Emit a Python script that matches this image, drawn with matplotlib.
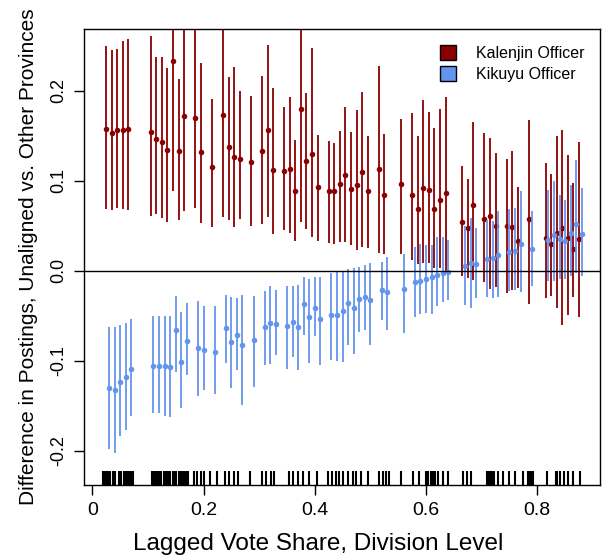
import numpy as np
import matplotlib
matplotlib.use("Agg")
import matplotlib.pyplot as plt
from matplotlib.patches import Patch

# division-level vote share bins (shared grid; Kalenjin drawn slightly left)
share = [0.03, 0.04, 0.05, 0.06, 0.07, 0.11, 0.12, 0.13, 0.14, 0.15, 0.16, 0.17, 0.19, 0.20, 0.22,
         0.24, 0.25, 0.26, 0.27, 0.29, 0.31,
         0.32, 0.33, 0.35, 0.36, 0.37, 0.38, 0.39, 0.40, 0.41, 0.43, 0.44, 0.45, 0.46, 0.47, 0.48,
         0.49, 0.50, 0.52, 0.53, 0.56, 0.58, 0.59, 0.60, 0.61, 0.62,
         0.63, 0.64, 0.67, 0.68, 0.69, 0.71, 0.72, 0.73, 0.75, 0.76, 0.77, 0.79, 0.82, 0.83, 0.84,
         0.85, 0.86, 0.87, 0.88]

kal_est = [0.157, 0.153, 0.156, 0.156, 0.157, 0.154, 0.146, 0.143, 0.134, 0.233, 0.133, 0.172, 0.169,
           0.132, 0.115, 0.173, 0.137, 0.126, 0.124, 0.121, 0.133,
           0.156, 0.112, 0.111, 0.113, 0.088, 0.180, 0.122, 0.129, 0.093, 0.089, 0.088, 0.096, 0.106,
           0.091, 0.095, 0.109, 0.089, 0.113, 0.084, 0.096, 0.084, 0.069, 0.092, 0.090, 0.069,
           0.079, 0.086, 0.054, 0.047, 0.073, 0.057, 0.061, 0.050, 0.050, 0.048, 0.033, 0.057, 0.036,
           0.030, 0.042, 0.047, 0.036, 0.024, 0.035]
kal_hi = [0.249, 0.245, 0.246, 0.255, 0.257, 0.261, 0.237, 0.237, 0.225, 0.378, 0.213, 0.278, 0.267,
          0.231, 0.191, 0.286, 0.215, 0.226, 0.200, 0.194, 0.216,
          0.251, 0.203, 0.182, 0.193, 0.145, 0.306, 0.197, 0.247, 0.151, 0.144, 0.142, 0.155, 0.182,
          0.154, 0.178, 0.198, 0.149, 0.227, 0.152, 0.168, 0.175, 0.150, 0.190, 0.176, 0.158,
          0.179, 0.193, 0.116, 0.102, 0.165, 0.153, 0.147, 0.131, 0.124, 0.133, 0.093, 0.167, 0.120,
          0.107, 0.149, 0.156, 0.128, 0.097, 0.143]
kal_lo = [0.069, 0.067, 0.070, 0.069, 0.067, 0.061, 0.063, 0.059, 0.054, 0.089, 0.056, 0.066, 0.070,
          0.053, 0.049, 0.060, 0.056, 0.049, 0.057, 0.050, 0.052,
          0.060, 0.041, 0.045, 0.042, 0.033, 0.054, 0.046, 0.037, 0.033, 0.031, 0.030, 0.032, 0.032,
          0.028, 0.023, 0.026, 0.025, 0.020, 0.019, 0.019, 0.012, 0.007, 0.009, 0.008, 0.003,
          0.003, 0.000, -0.006, -0.008, -0.010, -0.013, -0.020, -0.018, -0.025, -0.022, -0.019, -0.037,
          -0.030, -0.028, -0.041, -0.060, -0.049, -0.029, -0.051]

kik_est = [-0.130, -0.133, -0.124, -0.118, -0.109, -0.106, -0.106, -0.106, -0.107, -0.066, -0.101,
           -0.078, -0.086, -0.088, -0.090, -0.064, -0.079, -0.071, -0.083, -0.077, -0.063,
           -0.058, -0.059, -0.062, -0.057, -0.063, -0.037, -0.052, -0.041, -0.054, -0.049, -0.049,
           -0.045, -0.036, -0.041, -0.032, -0.029, -0.033, -0.021, -0.024, -0.020, -0.013, -0.012,
           -0.009, -0.007, -0.005,
           -0.003, -0.001, 0.005, 0.009, 0.007, 0.013, 0.014, 0.017, 0.021, 0.022, 0.030, 0.024,
           0.034, 0.040, 0.035, 0.033, 0.042, 0.052, 0.041]
kik_hi = [-0.063, -0.063, -0.060, -0.058, -0.054, -0.050, -0.050, -0.050, -0.050, -0.028, -0.046,
          -0.036, -0.034, -0.039, -0.039, -0.027, -0.029, -0.030, -0.027, -0.028, -0.023,
          -0.017, -0.022, -0.017, -0.017, -0.016, -0.007, -0.009, -0.007, -0.007, -0.003, -0.002,
          0.000, 0.002, 0.003, 0.004, 0.006, 0.009, 0.010, 0.015, 0.019, 0.026, 0.030, 0.029,
          0.029, 0.037,
          0.037, 0.034, 0.050, 0.059, 0.047, 0.056, 0.055, 0.066, 0.068, 0.070, 0.088, 0.066,
          0.090, 0.100, 0.084, 0.079, 0.095, 0.123, 0.092]
kik_lo = [-0.198, -0.202, -0.184, -0.177, -0.161, -0.158, -0.158, -0.161, -0.162, -0.113, -0.153,
          -0.116, -0.139, -0.133, -0.137, -0.102, -0.130, -0.110, -0.149, -0.129, -0.105,
          -0.104, -0.094, -0.109, -0.096, -0.110, -0.071, -0.102, -0.073, -0.105, -0.099, -0.100,
          -0.101, -0.082, -0.093, -0.068, -0.066, -0.082, -0.055, -0.066, -0.069, -0.052, -0.048,
          -0.047, -0.048, -0.039,
          -0.035, -0.033, -0.038, -0.042, -0.030, -0.029, -0.030, -0.029, -0.023, -0.022, -0.024,
          -0.017, -0.012, -0.012, -0.009, -0.009, -0.006, -0.003, -0.006]

# observed division vote shares (rug)
rug = [0.020, 0.022, 0.025, 0.027, 0.030, 0.032, 0.038, 0.041, 0.048, 0.051, 0.057, 0.060, 0.063,
       0.066, 0.068, 0.071, 0.073,
       0.108, 0.110, 0.113, 0.116, 0.118, 0.122, 0.124, 0.129, 0.132, 0.137, 0.140, 0.146, 0.148,
       0.151, 0.155, 0.158, 0.162, 0.165, 0.168, 0.172,
       0.183, 0.188, 0.196, 0.201, 0.211, 0.225, 0.238, 0.245, 0.255, 0.262, 0.283, 0.305, 0.312,
       0.321, 0.327, 0.354, 0.360, 0.369, 0.378, 0.390, 0.404, 0.423, 0.431, 0.438, 0.444, 0.451,
       0.459, 0.468, 0.474, 0.483, 0.495, 0.516, 0.522, 0.528, 0.534, 0.555, 0.576, 0.588, 0.600,
       0.604, 0.609, 0.612, 0.616, 0.622, 0.630, 0.639, 0.666, 0.674, 0.681, 0.710, 0.713, 0.716,
       0.719, 0.722, 0.729, 0.738, 0.749, 0.760, 0.774, 0.783, 0.786, 0.789, 0.793, 0.818, 0.833,
       0.836, 0.840, 0.848, 0.856, 0.865, 0.877]

kal_col = "#8B0000"
kik_col = "#6495ED"

plt.rcParams["font.family"] = ["Liberation Sans", "DejaVu Sans"]
plt.rcParams["axes.unicode_minus"] = False

fig = plt.figure(figsize=(6.05, 5.56), dpi=100)
ax = fig.add_axes([0.1393, 0.1277, 0.8524, 0.8196])

x = np.array(share)
xk = x - 0.005
ax.vlines(xk, kal_lo, kal_hi, color=kal_col, lw=1.3)
ax.plot(xk, kal_est, "o", color=kal_col, ms=4, mec="none")
ax.vlines(x, kik_lo, kik_hi, color=kik_col, lw=1.3)
ax.plot(x, kik_est, "o", color=kik_col, ms=4, mec="none")

ax.axhline(0, color="black", lw=1)
ax.vlines(rug, 0, 0.03, transform=ax.get_xaxis_transform(), color="black", lw=1.5)

ax.set_xlim(-0.0144, 0.9127)
ax.set_ylim(-0.238, 0.268)
ax.set_xticks([0, 0.2, 0.4, 0.6, 0.8])
ax.set_xticklabels(["0", "0.2", "0.4", "0.6", "0.8"])
ax.set_yticks([-0.2, -0.1, 0, 0.1, 0.2])
ax.set_yticklabels(["-0.2", "-0.1", "0.0", "0.1", "0.2"], rotation=90, va="center")
ax.tick_params(direction="out", length=7, width=1, pad=5)
ax.tick_params(axis="x", labelsize=14)
ax.tick_params(axis="y", labelsize=13)
for s in ax.spines.values():
    s.set_linewidth(1)

ax.set_xlabel("Lagged Vote Share, Division Level", fontsize=17.5)
ax.xaxis.set_label_coords(0.453, -0.105)
ax.set_ylabel("Difference in Postings, Unaligned vs. Other Provinces", fontsize=15, labelpad=9)

handles = [Patch(facecolor=kal_col, edgecolor="black", label="Kalenjin Officer"),
           Patch(facecolor=kik_col, edgecolor="black", label="Kikuyu Officer")]
ax.legend(handles=handles, loc="upper right", frameon=False, fontsize=11.5,
          handlelength=1.0, handleheight=1.0, handletextpad=1.2, labelspacing=0.35,
          borderaxespad=0.6)

fig.savefig("out.png", dpi=100)
